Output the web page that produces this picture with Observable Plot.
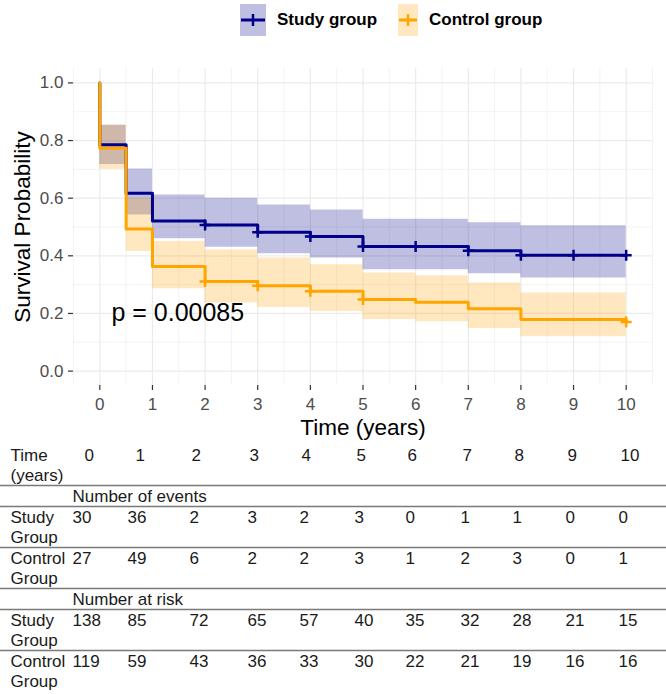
<!DOCTYPE html>
<html>
<head>
<meta charset="utf-8">
<script src="https://cdn.jsdelivr.net/npm/d3@7"></script>
<script src="https://cdn.jsdelivr.net/npm/@observablehq/plot@0.6"></script>
<style>
  html, body { margin: 0; padding: 0; background: #fff; }
  body { width: 666px; height: 694px; overflow: hidden; font-family: "Liberation Sans", Arial, Helvetica, sans-serif; }
  #legend { position: relative; height: 40px; }
  .lg-item { position: absolute; top: 0; height: 40px; display: flex; align-items: center; }
  .lg-text { font-weight: bold; font-size: 17px; color: #000; margin-left: 11px; white-space: nowrap; }
  svg { display: block; }
</style>
</head>
<body>
<div id="legend"></div>
<div id="chart"></div>
<div id="table"></div>
<script>
// ---------------- data ----------------
const groups = ["Study group", "Control group"];
const groupColors = ["#00008B", "#FFA500"];

// Kaplan-Meier steps (time, survival after step)
const studyTime = [0, 0, 0.5, 1, 2, 3, 4, 5, 7, 8, 10];
const studySurv = [1.0, 0.785, 0.617, 0.521, 0.507, 0.482, 0.467, 0.432, 0.418, 0.402, 0.402];
const controlTime = [0, 0, 0.5, 1, 2, 3, 4, 5, 6, 7, 8, 10];
const controlSurv = [1.0, 0.773, 0.493, 0.363, 0.311, 0.296, 0.277, 0.248, 0.239, 0.216, 0.179, 0.170];

// confidence bands
const studyBandTime = [0, 0.5, 1, 2, 3, 4, 5, 7, 8, 10];
const studyUpper = [0.853, 0.701, 0.611, 0.600, 0.576, 0.559, 0.527, 0.515, 0.504, 0.504];
const studyLower = [0.717, 0.542, 0.459, 0.430, 0.407, 0.392, 0.352, 0.338, 0.323, 0.323];
const controlBandTime = [0, 0.5, 1, 2, 3, 4, 5, 6, 7, 8, 10];
const controlUpper = [0.853, 0.600, 0.450, 0.420, 0.392, 0.369, 0.340, 0.331, 0.306, 0.271, 0.271];
const controlLower = [0.700, 0.415, 0.286, 0.236, 0.221, 0.207, 0.179, 0.171, 0.148, 0.119, 0.119];

// censor marks
const studyCensorTime = [2, 3, 4, 5, 6, 7, 8, 9, 10];
const studyCensorSurv = [0.507, 0.482, 0.467, 0.432, 0.432, 0.418, 0.402, 0.402, 0.402];
const controlCensorTime = [2, 3, 4, 5, 10];
const controlCensorSurv = [0.311, 0.296, 0.277, 0.248, 0.170];

const pValueText = "p = 0.00085";
const pValuePos = [0.22, 0.2];

const xTicks = [0, 1, 2, 3, 4, 5, 6, 7, 8, 9, 10];
const yTicks = [0, 0.2, 0.4, 0.6, 0.8, 1.0];
const xTitle = "Time (years)";
const yTitle = "Survival Probability";

// risk table
const tableTimes = [0, 1, 2, 3, 4, 5, 6, 7, 8, 9, 10];
const eventsStudy = [30, 36, 2, 3, 2, 3, 0, 1, 1, 0, 0];
const eventsControl = [27, 49, 6, 2, 2, 3, 1, 2, 3, 0, 1];
const riskStudy = [138, 85, 72, 65, 57, 40, 35, 32, 28, 21, 15];
const riskControl = [119, 59, 43, 36, 33, 30, 22, 21, 19, 16, 16];

// ---------------- helpers ----------------
const toRows = (t, v) => t.map((d, i) => ({t: d, v: v[i]}));
const toBand = (t, lo, hi) => t.map((d, i) => ({t: d, lo: lo[i], hi: hi[i]}));

const plusSymbol = {
  draw(context, size) {
    const r = Math.sqrt(size / Math.PI);
    context.moveTo(-r, 0); context.lineTo(r, 0);
    context.moveTo(0, -r); context.lineTo(0, r);
  }
};

// ---------------- legend ----------------
const legend = document.getElementById("legend");
const lgLayout = [{left: 240, w: 26}, {left: 398, w: 20}];
groups.forEach((g, i) => {
  const item = document.createElement("div");
  item.className = "lg-item";
  item.style.left = lgLayout[i].left + "px";
  const w = lgLayout[i].w, h = 32;
  item.innerHTML = `<svg width="${w}" height="${h}"><rect width="${w}" height="${h}" fill="${groupColors[i]}" fill-opacity="0.25"/>
    <line x1="1" x2="${w-1}" y1="${h/2}" y2="${h/2}" stroke="${groupColors[i]}" stroke-width="3"/>
    <line x1="${w/2}" x2="${w/2}" y1="${h/2-6}" y2="${h/2+6}" stroke="${groupColors[i]}" stroke-width="2.5"/></svg>
    <span class="lg-text">${g}</span>`;
  legend.appendChild(item);
});

// ---------------- chart ----------------
const studyData = toRows(studyTime, studySurv);
const controlData = toRows(controlTime, controlSurv);
const minorX = d3.range(-0.5, 10.6, 1);
const minorY = d3.range(-0.1, 1.11, 0.2).map(d => +d.toFixed(2)).filter(d => d > -0.05 && d < 1.05);

const chart = Plot.plot({
  width: 666,
  height: 400,
  marginTop: 28,
  marginBottom: 55,
  marginLeft: 73,
  marginRight: 14,
  style: {fontFamily: "'Liberation Sans', Arial, sans-serif", fontSize: "17px", color: "#4D4D4D", background: "white"},
  x: {domain: [-0.5, 10.5]},
  y: {domain: [-0.05, 1.05]},
  marks: [
    Plot.gridX(minorX, {stroke: "#EBEBEB", strokeOpacity: 1, strokeWidth: 0.6}),
    Plot.gridY(minorY, {stroke: "#EBEBEB", strokeOpacity: 1, strokeWidth: 0.6}),
    Plot.gridX(xTicks, {stroke: "#EBEBEB", strokeOpacity: 1, strokeWidth: 1.2}),
    Plot.gridY(yTicks, {stroke: "#EBEBEB", strokeOpacity: 1, strokeWidth: 1.2}),
    Plot.areaY(toBand(studyBandTime, studyLower, studyUpper), {x: "t", y1: "lo", y2: "hi", curve: "step-after", fill: groupColors[0], fillOpacity: 0.25}),
    Plot.areaY(toBand(controlBandTime, controlLower, controlUpper), {x: "t", y1: "lo", y2: "hi", curve: "step-after", fill: groupColors[1], fillOpacity: 0.25}),
    Plot.line(studyData, {x: "t", y: "v", curve: "step-after", stroke: groupColors[0], strokeWidth: 3}),
    Plot.line(controlData, {x: "t", y: "v", curve: "step-after", stroke: groupColors[1], strokeWidth: 3}),
    Plot.dot(toRows(studyCensorTime, studyCensorSurv), {x: "t", y: "v", symbol: plusSymbol, r: 5.5, stroke: groupColors[0], strokeWidth: 2.5, fill: "none"}),
    Plot.dot(toRows(controlCensorTime, controlCensorSurv), {x: "t", y: "v", symbol: plusSymbol, r: 5.5, stroke: groupColors[1], strokeWidth: 2.5, fill: "none"}),
    Plot.text([pValueText], {x: pValuePos[0], y: pValuePos[1], text: d => d, textAnchor: "start", fontSize: 25, fill: "#000"}),
    Plot.axisX(xTicks, {tickSize: 5, tickPadding: 7, label: null, stroke: "#333", strokeWidth: 1.2, fill: "#4D4D4D", fontSize: 17}),
    Plot.axisY(yTicks, {tickSize: 5, tickPadding: 5, label: null, tickFormat: d3.format(".1f"), stroke: "#333", strokeWidth: 1.2, fill: "#4D4D4D", fontSize: 17}),
    Plot.text([xTitle], {frameAnchor: "bottom", dy: 42, lineAnchor: "middle", textAnchor: "middle", text: d => d, fontSize: 22.5, fill: "#000"}),
    Plot.text([yTitle], {frameAnchor: "left", dx: -51, rotate: -90, lineAnchor: "middle", textAnchor: "middle", text: d => d, fontSize: 22.5, fill: "#000"})
  ]
});
document.getElementById("chart").appendChild(chart);

// ---------------- table ----------------
const blocks = [
  {label: ["Time", "(years)"], values: tableTimes, header: true},
  {section: "Number of events"},
  {label: ["Study", "Group"], values: eventsStudy},
  {label: ["Control", "Group"], values: eventsControl},
  {section: "Number at risk"},
  {label: ["Study", "Group"], values: riskStudy},
  {label: ["Control", "Group"], values: riskControl}
];
const lineH = 20;
let yy = 15;
const labelTexts = [], valueTexts = [], headerTexts = [], sectionTexts = [], rules = [];
blocks.forEach((b, bi) => {
  const nLines = b.label ? b.label.length : 1;
  if (b.label) {
    b.label.forEach((s, k) => labelTexts.push({y: yy + k * lineH, s}));
    b.values.forEach((v, k) => (b.header ? headerTexts : valueTexts).push({col: tableTimes[k], y: yy, s: String(v)}));
  } else {
    sectionTexts.push({col: tableTimes[0], y: yy, s: b.section});
  }
  const last = yy + (nLines - 1) * lineH;
  if (bi < blocks.length - 1) rules.push(last + 10);
  yy = last + 21;
});

const textStyle = {textAnchor: "start", fill: "#1a1a1a"};
const table = Plot.plot({
  width: 666,
  height: 254,
  margin: 0,
  style: {fontFamily: "'Liberation Sans', Arial, sans-serif", fontSize: "17px", color: "#1a1a1a", background: "white"},
  x: {type: "linear", domain: tableTimes, range: [72, 127, 189, 247, 299, 354, 405, 460, 512, 565, 618], axis: null},
  y: {type: "identity", axis: null},
  marks: [
    Plot.ruleY(rules, {stroke: "#7a7a7a", strokeWidth: 1.5}),
    Plot.text(labelTexts, {frameAnchor: "left", dx: 10, y: "y", text: "s", ...textStyle}),
    Plot.text(headerTexts.slice(0, 1), {x: "col", y: "y", text: "s", dx: 12, ...textStyle}),
    Plot.text(headerTexts.slice(1, 2), {x: "col", y: "y", text: "s", dx: 8, ...textStyle}),
    Plot.text(headerTexts.slice(2), {x: "col", y: "y", text: "s", dx: 2, ...textStyle}),
    Plot.text(valueTexts, {x: "col", y: "y", text: "s", ...textStyle}),
    Plot.text(sectionTexts, {x: "col", y: "y", text: "s", ...textStyle})
  ]
});
document.getElementById("table").appendChild(table);
</script>
</body>
</html>
